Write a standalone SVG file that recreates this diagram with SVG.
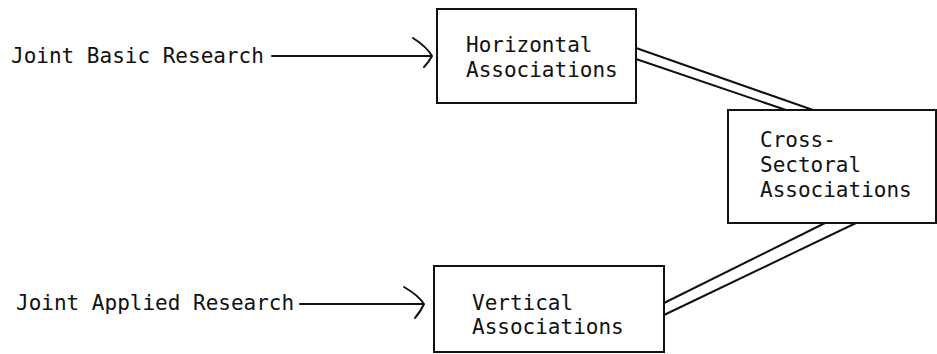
<svg xmlns="http://www.w3.org/2000/svg" width="937" height="354" viewBox="0 0 937 354">
<style>
.box{fill:#fff;stroke:#111;stroke-width:2}
.t{font-family:"DejaVu Sans Mono","Liberation Mono",monospace;font-size:21px;fill:#111}
.c{fill:none;stroke:#111;stroke-width:2;stroke-linecap:round;stroke-linejoin:round}
</style>
<rect width="937" height="354" fill="#fff"/>
<g id="connectors">
<line class="c" x1="272" y1="56" x2="431" y2="56"/>
<path class="c" d="M413,38 Q427,47 432,56 Q429,62 424,67"/>
<line class="c" x1="300" y1="304" x2="423" y2="304"/>
<path class="c" d="M404,287 Q418,295 424,304 Q421,311 415,318"/>
<line class="c" x1="636" y1="48" x2="813" y2="110"/>
<line class="c" x1="636" y1="59" x2="786" y2="110"/>
<line class="c" x1="825" y1="223" x2="664" y2="303"/>
<line class="c" x1="856" y1="223" x2="664" y2="315"/>
</g>
<g id="joint-basic"><text class="t" x="11" y="63">Joint Basic Research</text></g>
<g id="joint-applied"><text class="t" x="16" y="310">Joint Applied Research</text></g>
<g id="horizontal">
<rect class="box" x="437" y="9" width="199" height="94"/>
<text class="t" x="466" y="52">Horizontal</text>
<text class="t" x="466" y="77">Associations</text>
</g>
<g id="cross">
<rect class="box" x="728" y="110" width="208" height="113"/>
<text class="t" x="760" y="147">Cross-</text>
<text class="t" x="760" y="172">Sectoral</text>
<text class="t" x="760" y="197">Associations</text>
</g>
<g id="vertical">
<rect class="box" x="434" y="266" width="230" height="86"/>
<text class="t" x="472" y="310">Vertical</text>
<text class="t" x="472" y="334">Associations</text>
</g>
</svg>
